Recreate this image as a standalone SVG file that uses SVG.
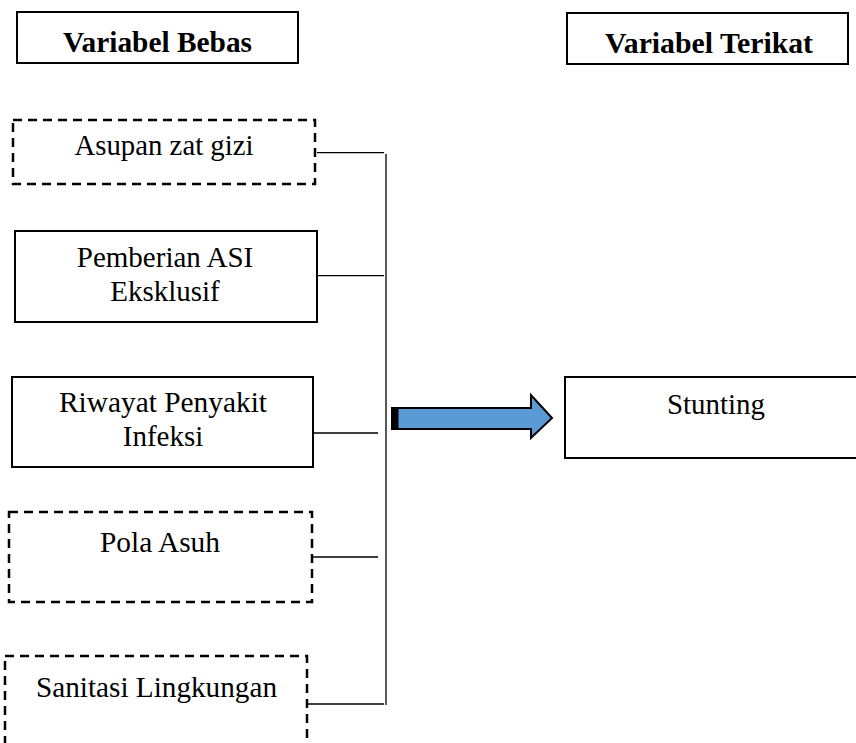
<svg xmlns="http://www.w3.org/2000/svg" width="856" height="743" viewBox="0 0 856 743">
<style>
.box{fill:#fff;stroke:#000;stroke-width:2}
.dash{fill:#fff;stroke:#000;stroke-width:2.5;stroke-dasharray:9 6}
text{font-family:'Liberation Serif','Times New Roman',Tinos,'DejaVu Serif',serif;font-size:29px;fill:#000;text-anchor:middle}
.b{font-weight:bold}
.ln{fill:none;stroke:#000;stroke-width:1.3}
</style>
<rect width="856" height="743" fill="#fff"/>
<g id="hdr-bebas"><rect class="box" x="17" y="12" width="281" height="51"/><text class="b" x="157.5" y="52" textLength="189" lengthAdjust="spacingAndGlyphs">Variabel Bebas</text></g>
<g id="hdr-terikat"><rect class="box" x="567" y="13" width="281" height="51"/><text class="b" x="709" y="53" textLength="208" lengthAdjust="spacingAndGlyphs">Variabel Terikat</text></g>
<g id="asupan"><rect class="dash" x="13" y="120" width="302" height="64"/><text x="164" y="155" textLength="179" lengthAdjust="spacingAndGlyphs">Asupan zat gizi</text></g>
<g id="asi"><rect class="box" x="15" y="231" width="302" height="91"/><text x="165" y="267">Pemberian ASI</text><text x="165" y="301">Eksklusif</text></g>
<g id="infeksi"><rect class="box" x="12" y="377" width="301" height="90"/><text x="163" y="412" textLength="208" lengthAdjust="spacingAndGlyphs">Riwayat Penyakit</text><text x="163" y="446">Infeksi</text></g>
<g id="pola"><rect class="dash" x="9" y="512" width="303" height="90"/><text x="160" y="552" textLength="120" lengthAdjust="spacingAndGlyphs">Pola Asuh</text></g>
<g id="sanitasi"><rect class="dash" x="5" y="656" width="302" height="110"/><text x="156.5" y="697" textLength="241" lengthAdjust="spacingAndGlyphs">Sanitasi Lingkungan</text></g>
<g id="stunting"><rect class="box" x="565" y="377" width="292" height="81"/><text x="716" y="414" textLength="98" lengthAdjust="spacingAndGlyphs">Stunting</text></g>
<g id="connectors">
<path class="ln" d="M317 152.7H384M317 275.7H384M313 433H378M312 557H378M308 704H384M386 154V705"/>
<path d="M392 408H531V395L552 418L531 438V429H392Z" fill="#5B9BD5" stroke="#000" stroke-width="2" stroke-linejoin="miter"/>
<rect x="392" y="408" width="6.5" height="21" fill="#000"/>
</g>
</svg>
